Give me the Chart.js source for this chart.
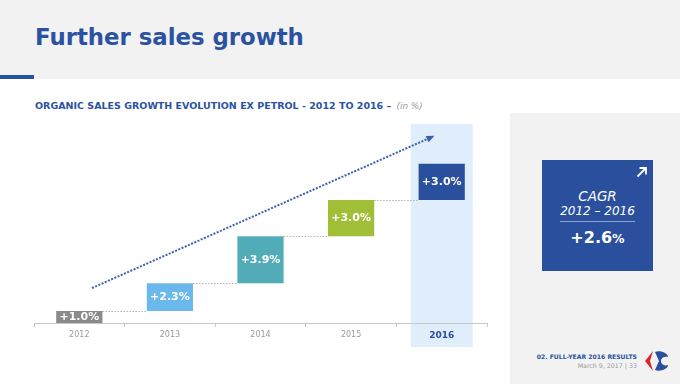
<!DOCTYPE html>
<html><head><meta charset="utf-8">
<script src="https://cdn.jsdelivr.net/npm/chart.js@4.4.1/dist/chart.umd.min.js"></script>
<style>
html,body{margin:0;padding:0;}
body{width:680px;height:384px;position:relative;overflow:hidden;background:#fff;font-family:"DejaVu Sans",Verdana,sans-serif;}
.abs{position:absolute;}
#hdr{left:0;top:0;width:680px;height:79px;background:#f2f2f2;}
#hbar{left:0;top:75px;width:34px;height:4px;background:#2a52a3;}
#title{left:35px;top:26px;font-size:22.8px;line-height:22px;font-weight:bold;color:#2b52a0;white-space:nowrap;}
#sub{left:35px;top:101px;font-size:9.5px;line-height:9px;font-weight:bold;color:#2b52a0;white-space:nowrap;}
#sub i{font-weight:normal;color:#999;font-size:8.8px;margin-left:2px;}
#panel{left:510px;top:113px;width:170px;height:271px;background:#f2f2f2;}
#cagr{left:542px;top:160px;width:111px;height:111px;background:#2a4f9c;color:#fff;text-align:center;}
#cagr .t1{position:absolute;left:0;width:111px;top:29px;font-style:italic;font-size:13.5px;line-height:14px;}
#cagr .t2{position:absolute;left:0;width:111px;top:45px;font-style:italic;font-size:12px;line-height:12px;}
#cagr .sep{position:absolute;left:18px;width:75px;top:61px;height:1px;background:#8fa2cf;}
#cagr .t3{position:absolute;left:0;width:111px;top:69px;font-weight:bold;font-size:16px;line-height:18px;}
#cagr .t3 span{font-size:12.5px;}
#foot1{right:43px;top:353px;font-size:6.1px;font-weight:bold;color:#2b52a0;white-space:nowrap;text-align:right;}
#foot2{right:43px;top:362px;font-size:6.3px;color:#999;white-space:nowrap;text-align:right;}
#logo{left:644px;top:349px;}
#c{position:absolute;left:0;top:0;}
</style></head>
<body>
<div id="hdr" class="abs"></div>
<div id="hbar" class="abs"></div>
<div id="title" class="abs">Further sales growth</div>
<div id="sub" class="abs">ORGANIC SALES GROWTH EVOLUTION EX PETROL - 2012 TO 2016 – <i>(in %)</i></div>
<div id="panel" class="abs"></div>
<div id="cagr" class="abs">
  <svg style="position:absolute;left:94px;top:6px" width="12" height="12" viewBox="0 0 12 12">
    <line x1="1.5" y1="10.5" x2="9.5" y2="2.5" stroke="#fff" stroke-width="1.8"/>
    <polyline points="3.5,2 10,2 10,8.5" fill="none" stroke="#fff" stroke-width="1.8"/>
  </svg>
  <div class="t1">CAGR</div>
  <div class="t2">2012 – 2016</div>
  <div class="sep"></div>
  <div class="t3">+2.6<span>%</span></div>
</div>
<div id="foot1" class="abs">02. FULL-YEAR 2016 RESULTS</div>
<div id="foot2" class="abs">March 9, 2017 | 33</div>
<svg id="logo" class="abs" width="26" height="24" viewBox="0 0 26 24">
  <path d="M9 2 L1 12 L9 22 L6 12 Z" fill="#d7262e"/>
  <path d="M11 3 C16 1 24 4 24 8 C21 7 18 8 17 11 C17 12 17 12 17 13 C18 16 21 17 24 16 C24 20 16 23 11 21 L15 12 Z" fill="#2a4f9c"/>
</svg>
<canvas id="c" width="680" height="384"></canvas>
<script>
const categories = ['2012', '2013', '2014', '2015', '2016'];
const growth = [1.0, 2.3, 3.9, 3.0, 3.0];
const barColors = ['#8a8a88', '#6bb9ec', '#52acb8', '#a1bf36', '#2a4f9c'];
const trendX = [0.14, 3.9];
const trendY = [2.9, 15.45];
const yMax = 16.5;

// floating waterfall bars built from the growth values
const floating = [];
let cum = 0;
growth.forEach(v => { floating.push([+cum.toFixed(2), +(cum + v).toFixed(2)]); cum += v; });
const barLabels = growth.map(v => '+' + v.toFixed(1) + '%');
const trendPoints = trendX.map((x, i) => ({x: x, y: trendY[i]}));

const deco = {
  id: 'deco',
  beforeDraw(chart) {
    const ctx = chart.ctx, xs = chart.scales.x, a = chart.chartArea;
    const cx = xs.getPixelForValue(categories.length - 1);
    ctx.save();
    ctx.fillStyle = '#dfeefa';
    ctx.fillRect(cx - 31, a.top, 62, a.bottom + 24 - a.top);
    ctx.restore();
  },
  beforeDatasetsDraw(chart) {
    const ctx = chart.ctx;
    const bars = chart.getDatasetMeta(0).data;
    ctx.save();
    ctx.strokeStyle = '#b0b0b0';
    ctx.lineWidth = 1;
    ctx.setLineDash([1.5, 1.5]);
    for (let i = 0; i < bars.length - 1; i++) {
      const b = bars[i], n = bars[i + 1];
      const y = Math.round(b.y) + 0.5;
      ctx.beginPath();
      ctx.moveTo(b.x + b.width / 2, y);
      ctx.lineTo(n.x - n.width / 2, y);
      ctx.stroke();
    }
    ctx.restore();
  },
  afterDatasetsDraw(chart) {
    const ctx = chart.ctx;
    const bars = chart.getDatasetMeta(0).data;
    ctx.save();
    ctx.fillStyle = '#ffffff';
    ctx.font = 'bold 11px "DejaVu Sans", Verdana, sans-serif';
    ctx.textAlign = 'center';
    ctx.textBaseline = 'middle';
    bars.forEach((b, i) => {
      ctx.fillText(barLabels[i], b.x, (b.y + b.base) / 2 + 0.5);
    });
    const pts = chart.getDatasetMeta(1).data;
    const p0 = pts[0], p1 = pts[pts.length - 1];
    const ang = Math.atan2(p1.y - p0.y, p1.x - p0.x);
    ctx.fillStyle = '#3b5fb0';
    ctx.translate(p1.x, p1.y);
    ctx.rotate(ang);
    ctx.beginPath();
    ctx.moveTo(2, 0);
    ctx.lineTo(-6, -3.5);
    ctx.lineTo(-6, 3.5);
    ctx.closePath();
    ctx.fill();
    ctx.restore();
  }
};

new Chart(document.getElementById('c'), {
  type: 'bar',
  data: {
    labels: categories,
    datasets: [
      {
        type: 'bar',
        data: floating,
        backgroundColor: barColors,
        borderWidth: 0,
        grouped: false,
        barPercentage: 0.51,
        categoryPercentage: 1.0,
        xAxisID: 'x',
        yAxisID: 'y'
      },
      {
        type: 'line',
        data: trendPoints,
        borderColor: '#3b5fb0',
        borderWidth: 2,
        borderDash: [2, 1.5],
        pointRadius: 0,
        fill: false,
        xAxisID: 'x2',
        yAxisID: 'y'
      }
    ]
  },
  options: {
    responsive: false,
    animation: false,
    devicePixelRatio: 1,
    layout: {padding: {left: 34, right: 193, top: 124, bottom: 31}},
    plugins: {legend: {display: false}, tooltip: {enabled: false}},
    scales: {
      x: {
        type: 'category',
        offset: true,
        grid: {offset: true, drawOnChartArea: false, drawTicks: true, tickLength: 4, color: '#c8c8c8'},
        border: {color: '#c8c8c8', width: 1},
        ticks: {
          padding: 3,
          color: (c) => c.index === categories.length - 1 ? '#2a4f9c' : '#999999',
          font: (c) => c.index === categories.length - 1
            ? {family: '"DejaVu Sans", Verdana, sans-serif', size: 9, weight: 'bold'}
            : {family: '"DejaVu Sans", Verdana, sans-serif', size: 8, weight: 'normal'}
        },
        afterFit: (s) => { s.height = 30; }
      },
      x2: {type: 'linear', min: -0.5, max: 4.5, offset: false, display: false},
      y: {type: 'linear', min: 0, max: yMax, display: false}
    }
  },
  plugins: [deco]
});
</script>
</body></html>
